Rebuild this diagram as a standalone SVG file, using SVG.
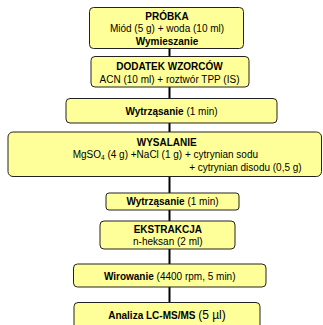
<svg xmlns="http://www.w3.org/2000/svg" width="323" height="325" viewBox="0 0 323 325">
<style>
.box{fill:#FFFF99;stroke:#222;stroke-width:1}
.t{font-family:"Liberation Sans",Arial,sans-serif;font-size:10px;fill:#000;text-anchor:middle}
.b{font-weight:bold}
.c{stroke:#000;stroke-width:2;fill:none}
</style>
<rect width="323" height="325" fill="#fff"/>
<g id="connectors">
<line class="c" x1="169.5" y1="48" x2="169.5" y2="56"/>
<line class="c" x1="169.5" y1="87" x2="169.5" y2="98"/>
<line class="c" x1="169.5" y1="123" x2="169.5" y2="132"/>
<line class="c" x1="169.5" y1="177" x2="169.5" y2="193"/>
<line class="c" x1="169.5" y1="210" x2="169.5" y2="221"/>
<line class="c" x1="169.5" y1="249" x2="169.5" y2="264"/>
<line class="c" x1="169.5" y1="287" x2="169.5" y2="302.5"/>
</g>
<g id="n1">
<rect class="box" x="89.5" y="7.5" width="154" height="41" rx="4"/>
<text class="t b" x="167" y="19.5">PRÓBKA</text>
<text class="t" x="167" y="32">Miód (5 g) + woda (10 ml)</text>
<text class="t b" x="167" y="44.5">Wymieszanie</text>
</g>
<g id="n2">
<rect class="box" x="91" y="56.5" width="158" height="30.5" rx="4"/>
<text class="t b" x="169.5" y="70">DODATEK WZORCÓW</text>
<text class="t" x="169.5" y="82.5">ACN (10 ml) + roztwór TPP (IS)</text>
</g>
<g id="n3">
<rect class="box" x="66" y="98.5" width="211" height="24.5" rx="4"/>
<text class="t" x="171.5" y="114.5"><tspan class="b">Wytrząsanie</tspan> (1 min)</text>
</g>
<g id="n4">
<rect class="box" x="8" y="132" width="313.5" height="44.5" rx="5"/>
<text class="t b" x="166.7" y="145.5">WYSALANIE</text>
<text class="t" x="72.7" y="157.5" style="text-anchor:start">MgSO<tspan font-size="6.5" dy="2">4</tspan><tspan dy="-2"> (4 g) +NaCl (1 g) + cytrynian sodu</tspan></text>
<text class="t" x="301.7" y="170.5" style="text-anchor:end">+ cytrynian disodu (0,5 g)</text>
</g>
<g id="n5">
<rect class="box" x="106" y="193" width="133" height="17" rx="3"/>
<text class="t" x="172.5" y="204.5"><tspan class="b">Wytrząsanie</tspan> (1 min)</text>
</g>
<g id="n6">
<rect class="box" x="100" y="221" width="135" height="28" rx="4"/>
<text class="t b" x="167.8" y="232.5">EKSTRAKCJA</text>
<text class="t" x="167.8" y="244.5">n-heksan (2 ml)</text>
</g>
<g id="n7">
<rect class="box" x="73.5" y="264" width="192.5" height="23" rx="4"/>
<text class="t" x="169.7" y="280"><tspan class="b">Wirowanie</tspan> (4400 rpm, 5 min)</text>
</g>
<g id="n8">
<rect class="box" x="74" y="302.5" width="186" height="30" rx="4"/>
<text class="t" x="167" y="319"><tspan class="b">Analiza LC-MS/MS</tspan> <tspan font-size="12">(5 µl)</tspan></text>
</g>
</svg>
